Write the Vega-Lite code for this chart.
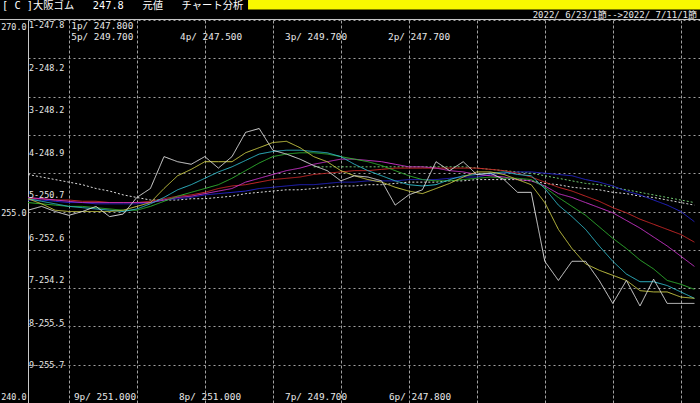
{
  "$schema": "https://vega.github.io/schema/vega-lite/v6.json",
  "width": 672,
  "height": 383,
  "autosize": {"type": "none"},
  "padding": {"left": 28, "top": 20, "right": 0, "bottom": 0},
  "background": "#000000",
  "config": {
    "view": {"stroke": null},
    "axis": {"labelOverlap": false},
    "text": {"font": "DejaVu Sans Mono, Noto Sans CJK JP", "color": "#e8e8e8"}
  },
  "datasets": {
    "ma": [
      {"i":0,"s1":255.1,"s2":256.0,"s3":256.0,"s4":255.7,"s5":256.1,"s6":256.0,"s7":255.9,"s8":257.9},
      {"i":1,"s1":255.4,"s2":255.6,"s3":255.8,"s4":255.6,"s5":256.0,"s6":256.0,"s7":255.9,"s8":257.7},
      {"i":2,"s1":255.0,"s2":255.1,"s3":255.6,"s4":255.5,"s5":255.9,"s6":255.9,"s7":255.8,"s8":257.5},
      {"i":3,"s1":254.7,"s2":255.0,"s3":255.4,"s4":255.4,"s5":255.8,"s6":255.9,"s7":255.7,"s8":257.3},
      {"i":4,"s1":255.0,"s2":255.0,"s3":255.3,"s4":255.4,"s5":255.7,"s6":255.8,"s7":255.7,"s8":257.1},
      {"i":5,"s1":255.4,"s2":255.0,"s3":255.2,"s4":255.3,"s5":255.7,"s6":255.8,"s7":255.6,"s8":256.8},
      {"i":6,"s1":254.6,"s2":255.0,"s3":255.1,"s4":255.2,"s5":255.7,"s6":255.7,"s7":255.6,"s8":256.6},
      {"i":7,"s1":254.8,"s2":255.1,"s3":255.0,"s4":255.1,"s5":255.7,"s6":255.7,"s7":255.6,"s8":256.3},
      {"i":8,"s1":256.1,"s2":255.4,"s3":255.2,"s4":255.1,"s5":255.7,"s6":255.7,"s7":255.6,"s8":256.1},
      {"i":9,"s1":256.8,"s2":255.7,"s3":255.6,"s4":255.4,"s5":255.7,"s6":255.8,"s7":255.7,"s8":255.9},
      {"i":10,"s1":259.3,"s2":256.8,"s3":256.1,"s4":255.8,"s5":255.9,"s6":256.0,"s7":255.9,"s8":255.9},
      {"i":11,"s1":258.9,"s2":257.8,"s3":256.7,"s4":256.2,"s5":256.1,"s6":256.2,"s7":256.0,"s8":255.9},
      {"i":12,"s1":258.7,"s2":258.3,"s3":257.1,"s4":256.5,"s5":256.2,"s6":256.3,"s7":256.1,"s8":256.0},
      {"i":13,"s1":259.3,"s2":258.9,"s3":257.6,"s4":256.8,"s5":256.4,"s6":256.5,"s7":256.3,"s8":256.0},
      {"i":14,"s1":258.4,"s2":258.9,"s3":258.1,"s4":257.1,"s5":256.6,"s6":256.8,"s7":256.4,"s8":256.1},
      {"i":15,"s1":259.3,"s2":258.9,"s3":258.5,"s4":257.6,"s5":256.8,"s6":257.0,"s7":256.5,"s8":256.2},
      {"i":16,"s1":261.2,"s2":259.6,"s3":259.0,"s4":258.2,"s5":257.3,"s6":257.1,"s7":256.6,"s8":256.4},
      {"i":17,"s1":261.5,"s2":260.0,"s3":259.5,"s4":258.8,"s5":257.6,"s6":257.3,"s7":256.8,"s8":256.5},
      {"i":18,"s1":259.8,"s2":260.4,"s3":259.7,"s4":259.3,"s5":257.9,"s6":257.5,"s7":256.9,"s8":256.6},
      {"i":19,"s1":259.5,"s2":260.5,"s3":259.8,"s4":259.5,"s5":258.2,"s6":257.6,"s7":257.0,"s8":256.7},
      {"i":20,"s1":259.1,"s2":260.0,"s3":259.8,"s4":259.6,"s5":258.4,"s6":257.7,"s7":257.1,"s8":256.7},
      {"i":21,"s1":258.6,"s2":259.3,"s3":259.7,"s4":259.6,"s5":258.7,"s6":257.9,"s7":257.1,"s8":256.8,"s9":258.5},
      {"i":22,"s1":258.2,"s2":258.9,"s3":259.6,"s4":259.5,"s5":258.9,"s6":258.0,"s7":257.2,"s8":256.9,"s9":258.5},
      {"i":23,"s1":257.4,"s2":258.2,"s3":259.3,"s4":259.3,"s5":259.1,"s6":258.1,"s7":257.3,"s8":257.0,"s9":258.5},
      {"i":24,"s1":257.8,"s2":257.8,"s3":258.7,"s4":259.1,"s5":259.1,"s6":258.2,"s7":257.3,"s8":257.0,"s9":258.5},
      {"i":25,"s1":257.7,"s2":257.5,"s3":258.2,"s4":258.9,"s5":259.0,"s6":258.2,"s7":257.4,"s8":257.1,"s9":258.5},
      {"i":26,"s1":257.4,"s2":257.3,"s3":257.8,"s4":258.6,"s5":258.9,"s6":258.3,"s7":257.4,"s8":257.1,"s9":258.5},
      {"i":27,"s1":255.5,"s2":256.9,"s3":257.4,"s4":258.2,"s5":258.7,"s6":258.4,"s7":257.4,"s8":257.2,"s9":258.5},
      {"i":28,"s1":256.3,"s2":256.6,"s3":257.1,"s4":257.8,"s5":258.5,"s6":258.4,"s7":257.5,"s8":257.3,"s9":258.5},
      {"i":29,"s1":256.7,"s2":256.4,"s3":257.0,"s4":257.5,"s5":258.5,"s6":258.4,"s7":257.5,"s8":257.3,"s9":258.5},
      {"i":30,"s1":258.9,"s2":256.8,"s3":257.1,"s4":257.4,"s5":258.4,"s6":258.4,"s7":257.5,"s8":257.3,"s9":258.5},
      {"i":31,"s1":258.2,"s2":257.2,"s3":257.5,"s4":257.4,"s5":258.2,"s6":258.4,"s7":257.6,"s8":257.4,"s9":258.5},
      {"i":32,"s1":258.9,"s2":257.7,"s3":257.8,"s4":257.5,"s5":258.1,"s6":258.4,"s7":257.7,"s8":257.4,"s9":258.5},
      {"i":33,"s1":257.9,"s2":258.1,"s3":257.9,"s4":257.6,"s5":257.9,"s6":258.4,"s7":257.7,"s8":257.5,"s9":258.4},
      {"i":34,"s1":258.0,"s2":258.1,"s3":258.0,"s4":257.7,"s5":257.8,"s6":258.3,"s7":257.9,"s8":257.5,"s9":258.3},
      {"i":35,"s1":257.5,"s2":257.9,"s3":258.1,"s4":257.6,"s5":257.7,"s6":258.2,"s7":258.0,"s8":257.5,"s9":258.2},
      {"i":36,"s1":256.5,"s2":257.5,"s3":257.9,"s4":257.6,"s5":257.5,"s6":258.0,"s7":258.1,"s8":257.5,"s9":258.1},
      {"i":37,"s1":256.5,"s2":257.1,"s3":257.8,"s4":257.5,"s5":257.4,"s6":257.7,"s7":258.1,"s8":257.4,"s9":258.0},
      {"i":38,"s1":251.1,"s2":255.7,"s3":256.8,"s4":256.9,"s5":257.0,"s6":257.3,"s7":258.0,"s8":257.2,"s9":257.8},
      {"i":39,"s1":249.6,"s2":253.6,"s3":255.5,"s4":256.1,"s5":256.4,"s6":256.9,"s7":257.9,"s8":257.1,"s9":257.6},
      {"i":40,"s1":251.1,"s2":252.1,"s3":254.6,"s4":255.4,"s5":256.1,"s6":256.6,"s7":257.8,"s8":256.9,"s9":257.4},
      {"i":41,"s1":251.1,"s2":250.9,"s3":253.6,"s4":254.7,"s5":255.7,"s6":256.2,"s7":257.5,"s8":256.8,"s9":257.2},
      {"i":42,"s1":249.6,"s2":250.4,"s3":252.3,"s4":253.8,"s5":255.3,"s6":255.8,"s7":257.3,"s8":256.7,"s9":257.1},
      {"i":43,"s1":247.8,"s2":250.0,"s3":251.1,"s4":252.9,"s5":254.9,"s6":255.3,"s7":257.0,"s8":256.5,"s9":256.9},
      {"i":44,"s1":249.6,"s2":249.6,"s3":250.1,"s4":252.1,"s5":254.3,"s6":254.9,"s7":256.6,"s8":256.4,"s9":256.7},
      {"i":45,"s1":247.6,"s2":248.8,"s3":249.5,"s4":251.2,"s5":253.7,"s6":254.4,"s7":256.3,"s8":256.2,"s9":256.5},
      {"i":46,"s1":249.7,"s2":248.7,"s3":249.5,"s4":250.5,"s5":253.0,"s6":254.0,"s7":255.9,"s8":256.1,"s9":256.3},
      {"i":47,"s1":247.8,"s2":248.7,"s3":249.2,"s4":249.6,"s5":252.3,"s6":253.6,"s7":255.5,"s8":255.9,"s9":256.1},
      {"i":48,"s1":247.8,"s2":248.3,"s3":248.7,"s4":249.3,"s5":251.5,"s6":253.2,"s7":255.0,"s8":255.7,"s9":255.9},
      {"i":49,"s1":247.8,"s2":248.2,"s3":248.2,"s4":248.9,"s5":250.7,"s6":252.6,"s7":254.2,"s8":255.5,"s9":255.7}
    ],
    "names": [
      {"k":"s1","label":"1-247.8"},
      {"k":"s2","label":"2-248.2"},
      {"k":"s3","label":"3-248.2"},
      {"k":"s4","label":"4-248.9"},
      {"k":"s5","label":"5-250.7"},
      {"k":"s6","label":"6-252.6"},
      {"k":"s7","label":"7-254.2"},
      {"k":"s8","label":"8-255.5"},
      {"k":"s9","label":"9-255.7"}
    ],
    "plabels": [
      {"label":"1p/ 247.800","i":3.18,"row":"top1"},
      {"label":"5p/ 249.700","i":3.18,"row":"top2"},
      {"label":"4p/ 247.500","i":11.18,"row":"top2"},
      {"label":"3p/ 249.700","i":18.9,"row":"top2"},
      {"label":"2p/ 247.700","i":26.47,"row":"top2"},
      {"label":"9p/ 251.000","i":3.38,"row":"bottom"},
      {"label":"8p/ 251.000","i":11.1,"row":"bottom"},
      {"label":"7p/ 249.700","i":18.9,"row":"bottom"},
      {"label":"6p/ 247.800","i":26.54,"row":"bottom"}
    ]
  },
  "layer": [
    {
      "layer": [
        {
          "data": {"name": "ma"},
          "transform": [{"fold": ["s9","s8","s7","s6","s5","s4","s3","s2","s1"], "as": ["s","v"]}],
          "mark": {"type": "line", "strokeWidth": 1, "clip": true},
          "encoding": {
            "x": {
              "field": "i", "type": "quantitative",
              "scale": {"domain": [0, 49.412], "nice": false, "zero": false},
              "axis": {"values": [3,8,13,18,23,28,33,38,43,48], "grid": true, "gridColor": "#a0a0a0", "gridDash": [3,2], "gridWidth": 1, "labels": false, "ticks": false, "domain": false, "title": null}
            },
            "y": {
              "field": "v", "type": "quantitative",
              "scale": {"domain": [240, 270], "nice": false, "zero": false},
              "axis": {
                "values": [240,243,246,249,252,255,258,261,264,267,270],
                "grid": true, "gridColor": "#a0a0a0", "gridDash": [2,3], "gridWidth": 1,
                "labelExpr": "datum.value == 240 || datum.value == 255 || datum.value == 270 ? format(datum.value, '.1f') : ''",
                "labelBaseline": {"condition": [{"test": "datum.value == 270", "value": "top"}, {"test": "datum.value == 240", "value": "bottom"}], "value": "middle"},
                "labelOffset": {"condition": [{"test": "datum.value == 270", "value": 2}, {"test": "datum.value == 240", "value": -2}], "value": 1},
                "labelOverlap": false, "labelBound": false,
                "labelColor": "#e8e8e8", "labelFont": "DejaVu Sans Mono", "labelFontSize": 8.4, "labelPadding": 2,
                "ticks": false, "domain": true, "domainColor": "#c8c8c8", "domainWidth": 1, "title": null
              }
            },
            "color": {
              "field": "s", "type": "nominal",
              "scale": {"domain": ["s1","s2","s3","s4","s5","s6","s7","s8","s9"],
                        "range": ["#dcdcdc","#c8c844","#30b8c8","#30b030","#c834c8","#c82828","#2424c8","#dcdcdc","#70c870"]},
              "legend": null
            },
            "strokeDash": {
              "field": "s", "type": "nominal",
              "scale": {"domain": ["s1","s2","s3","s4","s5","s6","s7","s8","s9"],
                        "range": [[1,0],[1,0],[1,0],[1,0],[1,0],[1,0],[1,0],[2,2],[2,2]]},
              "legend": null
            }
          }
        },
        {
          "data": {"name": "plabels"},
          "transform": [{"filter": "datum.row == 'top1'"}],
          "mark": {"type": "text", "align": "left", "baseline": "middle", "dy": 5.5, "fontSize": 9.4},
          "encoding": {
            "x": {"field": "i", "type": "quantitative", "axis": null},
            "y": {"datum": 270, "type": "quantitative", "axis": null},
            "text": {"field": "label"}
          }
        },
        {
          "data": {"name": "plabels"},
          "transform": [{"filter": "datum.row == 'top2'"}],
          "mark": {"type": "text", "align": "left", "baseline": "middle", "dy": 16.5, "fontSize": 9.4},
          "encoding": {
            "x": {"field": "i", "type": "quantitative", "axis": null},
            "y": {"datum": 270, "type": "quantitative", "axis": null},
            "text": {"field": "label"}
          }
        },
        {
          "data": {"name": "plabels"},
          "transform": [{"filter": "datum.row == 'bottom'"}],
          "mark": {"type": "text", "align": "left", "baseline": "middle", "dy": -6, "fontSize": 9.4},
          "encoding": {
            "x": {"field": "i", "type": "quantitative", "axis": null},
            "y": {"datum": 240, "type": "quantitative", "axis": null},
            "text": {"field": "label"}
          }
        },
        {
          "data": {"values": [{"t": "[ C ]大阪ゴム\u00a0\u00a0\u00a0247.8\u00a0\u00a0\u00a0元値\u00a0\u00a0\u00a0チャート分析"}]},
          "mark": {"type": "text", "align": "left", "baseline": "middle", "fontSize": 10.3, "color": "#ffffff"},
          "encoding": {
            "x": {"datum": -1.91, "type": "quantitative", "axis": null},
            "y": {"datum": 271.13, "type": "quantitative", "axis": null},
            "text": {"field": "t"}
          }
        },
        {
          "data": {"values": [{"t": "yellow"}]},
          "mark": {"type": "rect", "color": "#f8f800"},
          "encoding": {
            "x": {"datum": 16.18, "type": "quantitative", "axis": null},
            "x2": {"datum": 49.6},
            "y": {"datum": 271.6, "type": "quantitative", "axis": null},
            "y2": {"datum": 270.82}
          }
        },
        {
          "data": {"values": [{"t": "2022/ 6/23/1節-->2022/ 7/11/1節"}]},
          "mark": {"type": "text", "align": "right", "baseline": "middle", "dx": -3, "fontSize": 9},
          "encoding": {
            "x": {"datum": 49.412, "type": "quantitative", "axis": null},
            "y": {"datum": 270.36, "type": "quantitative", "axis": null},
            "text": {"field": "t"}
          }
        },
        {
          "data": {"values": [{"t": "frame"}]},
          "mark": {"type": "rule", "color": "#c8c8c8", "strokeWidth": 1},
          "encoding": {
            "x": {"datum": -2.1, "type": "quantitative", "axis": null},
            "x2": {"datum": 49.6},
            "y": {"datum": 270.04, "type": "quantitative", "axis": null}
          }
        }
      ],
      "resolve": {"axis": {"x": "independent", "y": "independent"}}
    },
    {
      "data": {"name": "names"},
      "mark": {"type": "text", "align": "left", "baseline": "middle", "dx": 1, "dy": 5, "fontSize": 8.4},
      "encoding": {
        "x": {"datum": 0, "type": "quantitative", "axis": null},
        "y": {"field": "k", "type": "nominal", "sort": null, "bandPosition": 0,
              "scale": {"type": "band", "paddingInner": 0, "paddingOuter": 0}, "axis": null},
        "text": {"field": "label"}
      }
    }
  ],
  "resolve": {"scale": {"y": "independent"}, "axis": {"x": "independent"}}
}
